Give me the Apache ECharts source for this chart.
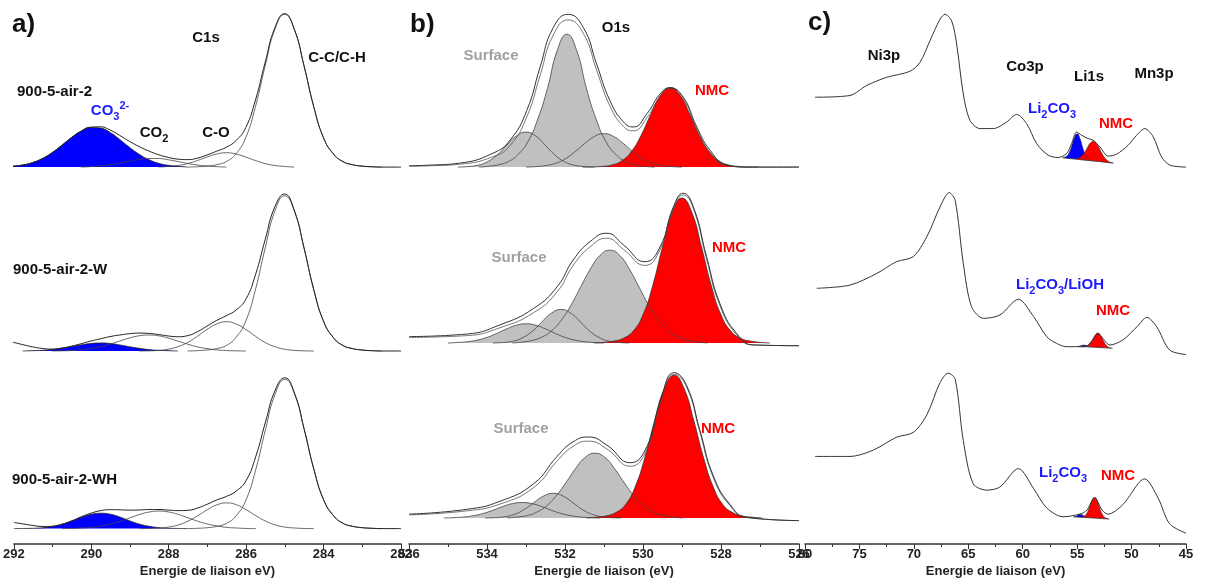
<!DOCTYPE html>
<html><head><meta charset="utf-8">
<script src="https://cdn.jsdelivr.net/npm/echarts/dist/echarts.min.js"></script>
<style>html,body{margin:0;padding:0;background:#fff}#c{width:1207px;height:579px}</style>
</head><body><div id="c"></div>
<script>
// ---------- Panel a : C1s (x = binding energy eV, y = intensity, baseline = 0) ----------
const a1_env = [[292,0.6],[291.75,1.3],[291.5,2.8],[291.25,5.3],[291,8.9],[290.75,13.5],[290.5,18.4],[290.25,22.5],[290,25.1],[289.75,25.3],[289.5,23.3],[289.25,19.9],[289,16.2],[288.75,12.9],[288.5,10.1],[288.25,7.8],[288,6.1],[287.75,5.0],[287.5,4.7],[287.25,5.6],[287,7.6],[286.75,10],[286.5,12.5],[286.25,16.7],[286,24.9],[285.75,42.2],[285.5,65.9],[285.25,87.6],[285,96.4],[284.75,86.6],[284.5,63.7],[284.25,38.1],[284,18.6],[283.75,8.5],[283.5,3.5],[283.25,1.5],[283,0.6],[282.75,0.2],[282.5,0],[282,0]];
const a1_co3 = [[292,0.6],[291.75,1.3],[291.5,2.8],[291.25,5.3],[291,8.9],[290.75,13.5],[290.5,18.4],[290.25,22.5],[290,24.8],[289.75,24.5],[289.5,21.8],[289.25,17.4],[289,12.5],[288.75,8.1],[288.5,4.7],[288.25,2.4],[288,1.1],[287.75,0.5],[287.5,0]];
const a1_co2 = [[290.25,0],[290,0.3],[289.75,0.8],[289.5,1.5],[289.25,2.5],[289,3.7],[288.75,4.8],[288.5,5.4],[288.25,5.4],[288,4.6],[287.75,3.5],[287.5,2.3],[287.25,1.3],[287,0.7],[286.75,0.3],[286.5,0]];
const a1_co = [[288.25,0],[288,0.4],[287.75,1],[287.5,2.2],[287.25,4.1],[287,6.3],[286.75,8.2],[286.5,9],[286.25,8.2],[286,6.3],[285.75,4.1],[285.5,2.2],[285.25,1],[285,0.4],[284.75,0]];
const a1_cc = [[287.5,0],[287.25,0.2],[287,0.6],[286.75,1.5],[286.5,3.5],[286.25,8.5],[286,18.6],[285.75,38.1],[285.5,63.7],[285.25,86.6],[285,96],[284.75,86.6],[284.5,63.7],[284.25,38.1],[284,18.6],[283.75,8.5],[283.5,3.5],[283.25,1.5],[283,0.6],[282.75,0.2],[282.5,0]];

const a2_env = [[292,5.5],[291.75,4],[291.5,2.6],[291.25,1.6],[291,1.2],[290.75,1.8],[290.5,3],[290.25,4.5],[290,6.2],[289.75,7.6],[289.5,9],[289.25,10],[289,10.8],[288.75,11.2],[288.5,11],[288.25,10.3],[288,9.4],[287.75,8.9],[287.5,9.6],[287.25,12],[287,15.6],[286.75,19.1],[286.5,22.1],[286.25,25.6],[286,32.3],[285.75,47.7],[285.5,69.7],[285.25,90.2],[285,98.1],[284.75,87.9],[284.5,64.5],[284.25,38.5],[284,18.8],[283.75,8.6],[283.5,3.5],[283.25,1.5],[283,0.6],[282.75,0.2],[282.5,0],[282,0]];
const a2_co3 = [[291.75,0],[291.5,0.2],[291.25,0.4],[291,0.9],[290.75,1.7],[290.5,2.7],[290.25,3.8],[290,4.7],[289.75,5],[289.5,4.7],[289.25,3.8],[289,2.7],[288.75,1.7],[288.5,0.9],[288.25,0.4],[288,0.2],[287.75,0]];
const a2_co2 = [[291,0],[290.75,0.1],[290.5,0.3],[290.25,0.7],[290,1.5],[289.75,2.6],[289.5,4.3],[289.25,6.2],[289,8.1],[288.75,9.5],[288.5,10],[288.25,9.5],[288,8.1],[287.75,6.2],[287.5,4.3],[287.25,2.6],[287,1.5],[286.75,0.7],[286.5,0.3],[286.25,0.1],[286,0]];
const a2_co = [[288.75,0],[288.5,0.1],[288.25,0.4],[288,1.1],[287.75,2.7],[287.5,5.3],[287.25,9.2],[287,13.5],[286.75,16.9],[286.5,18.3],[286.25,16.9],[286,13.5],[285.75,9.2],[285.5,5.3],[285.25,2.7],[285,1.1],[284.75,0.4],[284.5,0.1],[284.25,0]];
const a2_cc = [[287.5,0],[287.25,0.2],[287,0.6],[286.75,1.5],[286.5,3.5],[286.25,8.6],[286,18.8],[285.75,38.5],[285.5,64.4],[285.25,87.5],[285,97],[284.75,87.5],[284.5,64.4],[284.25,38.5],[284,18.8],[283.75,8.6],[283.5,3.5],[283.25,1.5],[283,0.6],[282.75,0.2],[282.5,0]];

const a3_env = [[292,4],[291.75,3],[291.5,2],[291.25,1.4],[291,1.5],[290.75,2.9],[290.5,5.1],[290.25,7.8],[290,10.1],[289.75,11.7],[289.5,12.3],[289.25,12.2],[289,12],[288.75,12.1],[288.5,12.4],[288.25,12.4],[288,12],[287.75,11.7],[287.5,11.9],[287.25,13.4],[287,15.9],[286.75,18.7],[286.5,21],[286.25,24.5],[286,31.2],[285.75,46.9],[285.5,69.3],[285.25,89.9],[285,98],[284.75,87.9],[284.5,64.5],[284.25,38.5],[284,18.8],[283.75,8.6],[283.5,3.5],[283.25,1.5],[283,0.6],[282.75,0.2],[282.5,0],[282,0]];
const a3_co3 = [[292,0],[291.75,0.1],[291.5,0.2],[291.25,0.6],[291,1.5],[290.75,2.9],[290.5,5],[290.25,7.4],[290,9.3],[289.75,10],[289.5,9.3],[289.25,7.4],[289,5],[288.75,2.9],[288.5,1.5],[288.25,0.6],[288,0.2],[287.75,0.1],[287.5,0]];
const a3_co2 = [[290.75,0],[290.5,0.1],[290.25,0.4],[290,0.8],[289.75,1.7],[289.5,3],[289.25,4.8],[289,7],[288.75,9.2],[288.5,10.8],[288.25,11.4],[288,10.8],[287.75,9.2],[287.5,7],[287.25,4.8],[287,3],[286.75,1.7],[286.5,0.8],[286.25,0.4],[286,0.1],[285.75,0]];
const a3_co = [[288.75,0],[288.5,0.1],[288.25,0.4],[288,1],[287.75,2.4],[287.5,4.9],[287.25,8.4],[287,12.3],[286.75,15.5],[286.5,16.7],[286.25,15.5],[286,12.3],[285.75,8.4],[285.5,4.9],[285.25,2.4],[285,1],[284.75,0.4],[284.5,0.1],[284.25,0]];
const a3_cc = [[287.5,0],[287.25,0.2],[287,0.6],[286.75,1.5],[286.5,3.5],[286.25,8.6],[286,18.8],[285.75,38.5],[285.5,64.4],[285.25,87.5],[285,97],[284.75,87.5],[284.5,64.4],[284.25,38.5],[284,18.8],[283.75,8.6],[283.5,3.5],[283.25,1.5],[283,0.6],[282.75,0.2],[282.5,0]];

// ---------- Panel b : O1s (env = raw data, fit = fit envelope) ----------
const b1_env = [[536,0.8],[535.5,1.2],[534.7,2.5],[533.85,8.7],[533.41,16.9],[532.98,35.6],[532.64,62.7],[532.3,87.7],[531.92,96],[531.53,87.7],[531.19,64.8],[530.85,41.9],[530.5,28.3],[530.25,25.2],[529.9,33.5],[529.56,46],[529.31,49.8],[528.97,44],[528.62,25.2],[528.28,10.6],[527.85,1.3],[527.26,0],[526,0]];
const b1_fit = [[536,0.5],[535.5,0.8],[534.7,1.8],[533.85,6.5],[533.41,13.5],[532.98,31.5],[532.64,57.5],[532.3,83],[531.92,92.5],[531.53,84],[531.19,61],[530.85,38.5],[530.5,25.5],[530.25,22.8],[529.9,31],[529.56,44.5],[529.31,49.5],[528.97,43],[528.62,23.5],[528.28,9.2],[527.85,1],[527.26,0],[526,0]];
const b1_left = [[534.75,0],[534.5,0.3],[534.25,1.1],[534,3.2],[533.75,7.4],[533.5,13.6],[533.25,19.5],[533,22],[532.75,19.5],[532.5,13.6],[532.25,7.4],[532,3.2],[531.75,1.1],[531.5,0.3],[531.25,0]];
const b1_main = [[534.2,0],[533.95,0.5],[533.7,1.5],[533.45,3.5],[533.2,8],[532.95,16],[532.7,30],[532.45,49.4],[532.2,73.2],[531.95,83.5],[531.7,73.2],[531.45,49.4],[531.2,30],[530.95,16],[530.7,8],[530.45,3.5],[530.2,1.5],[529.95,0.5],[529.7,0]];
const b1_right = [[533,0],[532.75,0.3],[532.5,0.9],[532.25,2.3],[532,5.1],[531.75,9.5],[531.5,14.7],[531.25,19.2],[531,21],[530.75,19.2],[530.5,14.7],[530.25,9.5],[530,5.1],[529.75,2.3],[529.5,0.9],[529.25,0.3],[529,0]];
const b1_nmc = [[531.55,0],[531.3,0.1],[531.05,0.4],[530.8,1.3],[530.55,3.9],[530.3,9.7],[530.05,19.9],[529.8,33.2],[529.55,45.1],[529.3,50],[529.05,45.1],[528.8,33.2],[528.55,19.9],[528.3,9.7],[528.05,3.9],[527.8,1.3],[527.55,0.4],[527.3,0.1],[527.05,0]];

const b2_env = [[536,4],[534.52,5.6],[533.67,11.3],[532.8,21.7],[532.2,35.2],[531.79,51.9],[531.36,63.3],[530.93,68.6],[530.5,61.3],[529.95,50.8],[529.56,60.2],[529.22,85.2],[528.97,93.6],[528.71,85.2],[528.37,54],[528.03,24.8],[527.6,6],[527.17,-1.2],[526,-1.7]];
const b2_fit = [[536,3.5],[534.52,4.6],[533.67,9.5],[532.8,19],[532.2,32],[531.79,48.5],[531.36,60],[530.93,65.5],[530.5,58.5],[529.95,48.5],[529.56,58.5],[529.22,84],[528.97,92.5],[528.71,84],[528.37,52.5],[528.03,23.5],[527.6,5.2],[527.17,-1.2],[526,-1.7]];
const b2_third = [[535,0],[534.75,0.3],[534.5,0.8],[534.25,1.8],[534,3.5],[533.75,6],[533.5,8.8],[533.25,11.1],[533,12],[532.75,11.1],[532.5,8.8],[532.25,6],[532,3.5],[531.75,1.8],[531.5,0.8],[531.25,0.3],[531,0]];
const b2_main = [[533.35,0],[533.1,0.6],[532.85,1.6],[532.6,3.6],[532.35,7.5],[532.1,14.1],[531.85,23.5],[531.6,34.9],[531.35,46.2],[531.1,54.8],[530.85,58],[530.6,54.8],[530.35,46.2],[530.1,34.9],[529.85,23.5],[529.6,14.1],[529.35,7.5],[529.1,3.6],[528.85,1.6],[528.6,0.6],[528.35,0]];
const b2_sec = [[533.85,0],[533.6,0.3],[533.35,1],[533.1,3.1],[532.85,7.1],[532.6,13],[532.35,18.6],[532.1,21],[531.85,18.6],[531.6,13],[531.35,7.1],[531.1,3.1],[530.85,1],[530.6,0.3],[530.35,0]];
const b2_nmc = [[531.25,0],[531,0.4],[530.75,1.2],[530.5,3],[530.25,7.5],[530,17.6],[529.75,36],[529.5,60],[529.25,81.7],[529,90.6],[528.75,81.7],[528.5,60],[528.25,36],[528,17.6],[527.75,7.5],[527.5,3],[527.25,1.2],[527,0.4],[526.75,0]];

const b3_env = [[536,2.5],[534.52,5.6],[533.67,10.8],[532.8,22.3],[532.2,40],[531.79,49.4],[531.4,52.5],[530.93,47.3],[530.33,35.8],[529.9,46.3],[529.56,75.4],[529.2,94.2],[528.88,85.8],[528.54,56.7],[528.2,27.5],[527.77,8.75],[527.34,0.4],[526,-1.7]];
const b3_fit = [[536,2],[534.52,4.6],[533.67,9],[532.8,19.8],[532.2,37],[531.79,46.5],[531.4,49.8],[530.93,44.8],[530.33,33.5],[529.9,44.5],[529.56,74.3],[529.2,93.2],[528.88,84.8],[528.54,55.5],[528.2,26.3],[527.77,8],[527.34,0.3],[526,-1.7]];
const b3_third = [[535.1,0],[534.85,0.2],[534.6,0.6],[534.35,1.5],[534.1,2.9],[533.85,5],[533.6,7.4],[533.35,9.3],[533.1,10],[532.85,9.3],[532.6,7.4],[532.35,5],[532.1,2.9],[531.85,1.5],[531.6,0.6],[531.35,0.2],[531.1,0]];
const b3_main = [[533.48,0],[533.23,0.6],[532.98,1.5],[532.73,3.7],[532.48,7.7],[532.23,14.2],[531.98,22.8],[531.73,32],[531.48,39.3],[531.23,42],[530.98,39.3],[530.73,32],[530.48,22.8],[530.23,14.2],[529.98,7.7],[529.73,3.7],[529.48,1.5],[529.23,0.6],[528.98,0]];
const b3_sec = [[534.05,0],[533.8,0.2],[533.55,0.8],[533.3,2.3],[533.05,5.4],[532.8,9.9],[532.55,14.2],[532.3,16],[532.05,14.2],[531.8,9.9],[531.55,5.4],[531.3,2.3],[531.05,0.8],[530.8,0.2],[530.55,0]];
const b3_nmc = [[531.45,0],[531.2,0.5],[530.95,1.3],[530.7,3.5],[530.45,8.6],[530.2,20.2],[529.95,39.3],[529.7,63.3],[529.45,84.1],[529.2,92.5],[528.95,84.1],[528.7,63.3],[528.45,39.3],[528.2,20.2],[527.95,8.6],[527.7,3.5],[527.45,1.3],[527.2,0.5],[526.95,0]];

// ---------- Panel c : Ni3p / Co3p / Li1s / Mn3p (component tops are absolute, bg = fit background) ----------
const c1_spec = [[79.08,43.9],[75.87,45],[74.33,51.3],[72.5,56.4],[70.36,60.2],[69.44,65.8],[68.52,79.4],[67.6,92.9],[67.14,96],[66.53,91.9],[66.07,77.3],[65.46,46],[64.85,29.4],[63.93,24.2],[62.7,24.2],[61.48,28.3],[60.56,33.1],[59.64,27.3],[58.72,14.8],[57.66,7.5],[56.74,6],[55.97,8.5],[55.51,14.8],[55.05,22],[54.59,20],[53.98,17.9],[53.53,16.9],[52.91,12.7],[52.15,6.9],[51.38,8.1],[50.31,13.75],[49.54,20],[48.78,24.2],[48,18.9],[47.25,6.4],[46.48,1.25],[45,0]];
const c1_blue = [[56.25,6.0],[56,6.6],[55.75,8.8],[55.5,13.25],[55.25,18.6],[55,20.9],[54.75,18.2],[54.5,12.5],[54.25,7.75],[54,5.2],[53.75,4.2]];
const c1_red = [[55.25,5.3],[55,5.4],[54.75,6.1],[54.5,7.5],[54.25,9.95],[54,13],[53.75,15.4],[53.5,16.3],[53.25,15],[53,12.3],[52.75,8.9],[52.5,6.1],[52.25,4.3],[52,3.2],[51.75,2.8]];
const c1_bg = [[56.35,5.9],[56,5.6],[55.5,5.25],[55,4.9],[54.5,4.5],[54,4.2],[53.5,3.8],[53,3.5],[52.5,3.1],[52,2.7],[51.65,2.5]];

const c2_spec = [[78.93,39.2],[75.87,41.2],[73.4,48.5],[71.6,55.8],[70.05,59],[68.8,71.5],[67.6,90],[66.75,99],[66.2,94],[65.46,54.8],[64.7,27.7],[63.6,20.4],[62.1,22.5],[60.4,32.3],[59,21.5],[57.8,9],[56.9,4.8],[56,2.7],[54.45,2.7],[54.1,3.1],[53.5,7.5],[53.07,11],[52.6,7.5],[52,3.75],[50.8,6.9],[49.5,15.2],[48.6,21],[47.7,15.2],[46.5,0.6],[45,-2.2]];
const c2_blue = [[54.85,2.9],[54.6,3.4],[54.35,3.7],[54.1,3.2],[53.85,2.5]];
const c2_red = [[54.35,2.8],[54.1,3.2],[53.85,4.4],[53.6,6.9],[53.35,9.9],[53.1,11.2],[52.85,9.7],[52.6,6.5],[52.35,3.8],[52.1,2.4],[51.85,1.8]];
const c2_bg = [[54.95,2.9],[54.5,2.75],[54,2.6],[53.5,2.4],[53,2.2],[52.5,2],[52,1.8],[51.75,1.7]];

const c3_spec = [[79.08,46.9],[75.87,46.9],[73.73,51],[71.58,59.4],[70.05,62.5],[68.8,74],[67.6,94.8],[66.84,101],[66.2,97],[65.46,57.3],[64.55,29.2],[63.3,25],[62.1,27],[60.4,39],[59,26],[57.8,13.5],[56.3,7.7],[54.75,9.4],[54.1,12],[53.4,20.2],[52.7,12],[52.15,9.4],[50.8,15.6],[48.8,32.3],[47.56,19.8],[46.5,3.1],[45,-3]];
const c3_blue = [[55.25,7.6],[55,8.3],[54.75,9.4],[54.5,8.9],[54.25,7.7],[54,7.1]];
const c3_red = [[54.65,7.5],[54.4,7.9],[54.15,9.5],[53.9,13.2],[53.65,18],[53.4,20.2],[53.15,17.8],[52.9,12.8],[52.65,8.9],[52.4,7],[52.15,6.4]];
const c3_bg = [[55.35,7.65],[55,7.5],[54.5,7.3],[54,7.1],[53.5,6.85],[53,6.65],[52.5,6.4],[52.05,6.25]];

// axis settings (values)
const axisMin = [282, 526, 45];
const axisMax = [292, 536, 80];
const axisStep = [2, 2, 5];
const axisNames = ['Energie de liaison eV)', 'Energie de liaison (eV)', 'Energie de liaison (eV)'];

// ---------- layout ----------
const FF = '"Liberation Sans", Arial, Helvetica, sans-serif';
const PANEL_LEFT = [13, 409, 805];
const PANEL_W = [388, 390, 381];
const BASE = [[167, 351, 535], [167, 343, 524], [167, 351, 535]];
const PX = 1.6, YMAX = 105, AXIS_Y = 551;

const grids = [], xAxes = [], yAxes = [];
for (let p = 0; p < 3; p++) {
  for (let r = 0; r < 3; r++) {
    const g = p * 3 + r;
    const base = BASE[p][r];
    const top = base - YMAX * PX;
    const bottomPx = r < 2 ? base + 16 : AXIS_Y;
    grids.push({ left: PANEL_LEFT[p], width: PANEL_W[p], top: top, height: bottomPx - top });
    yAxes.push({ type: 'value', gridIndex: g, min: -(bottomPx - base) / PX, max: YMAX, show: false });
    const last = r === 2;
    xAxes.push({
      type: 'value', gridIndex: g, min: axisMin[p], max: axisMax[p], interval: axisStep[p], inverse: true,
      show: last, z: 10,
      name: last ? axisNames[p] : '', nameLocation: 'middle', nameGap: 21,
      nameTextStyle: { fontFamily: FF, fontWeight: 'bold', fontSize: 13, color: '#222' },
      axisLine: { show: true, onZero: false, lineStyle: { color: '#333', width: 1.5 } },
      axisTick: { show: true, length: 5, lineStyle: { color: '#333', width: 1 } },
      minorTick: { show: true, splitNumber: 2, length: 3, lineStyle: { color: '#333', width: 1 } },
      splitLine: { show: false }, minorSplitLine: { show: false },
      axisLabel: { margin: 4, fontFamily: FF, fontWeight: 'bold', fontSize: 13, color: '#222' }
    });
  }
}

function L(g, data, o) {
  return Object.assign({ type: 'line', xAxisIndex: g, yAxisIndex: g, data: data, symbol: 'none', showSymbol: false,
    smooth: 0.5, animation: false, silent: true, lineStyle: { color: '#333', width: 1 } }, o || {});
}
const thin = { lineStyle: { color: '#444', width: 0.8 } };
const series = [];
// panel a
[[a1_co3, a1_co2, a1_co, a1_cc, a1_env], [a2_co3, a2_co2, a2_co, a2_cc, a2_env], [a3_co3, a3_co2, a3_co, a3_cc, a3_env]].forEach((d, r) => {
  const g = r;
  series.push(L(g, d[0], { areaStyle: { color: '#0000ff', opacity: 1 }, lineStyle: { color: '#222', width: 0.8 } }));
  series.push(L(g, d[1], thin));
  series.push(L(g, d[2], thin));
  series.push(L(g, d[3], thin));
  series.push(L(g, d[4], { lineStyle: { color: '#222', width: 1 } }));
});
// panel b
const GRAY = { areaStyle: { color: '#c0c0c0', opacity: 1 }, lineStyle: { color: '#444', width: 0.8 } };
const RED = { areaStyle: { color: '#ff0000', opacity: 1 }, lineStyle: { color: '#333', width: 0.8 } };
[[b1_left, b1_main, b1_right, b1_nmc, b1_fit, b1_env], [b2_third, b2_main, b2_sec, b2_nmc, b2_fit, b2_env], [b3_third, b3_main, b3_sec, b3_nmc, b3_fit, b3_env]].forEach((d, r) => {
  const g = 3 + r;
  series.push(L(g, d[0], GRAY));
  series.push(L(g, d[1], GRAY));
  series.push(L(g, d[2], GRAY));
  series.push(L(g, d[3], RED));
  series.push(L(g, d[4], { lineStyle: { color: '#555', width: 0.8 } }));
  series.push(L(g, d[5], { lineStyle: { color: '#333', width: 1 } }));
});
// panel c : component fills are cut at the fit background by a white area drawn over them
[[c1_blue, c1_red, c1_bg, c1_spec], [c2_blue, c2_red, c2_bg, c2_spec], [c3_blue, c3_red, c3_bg, c3_spec]].forEach((d, r) => {
  const g = 6 + r;
  series.push(L(g, d[0], { areaStyle: { color: '#0000ff', opacity: 1 }, lineStyle: { color: '#333', width: 0.6 } }));
  series.push(L(g, d[1], { areaStyle: { color: '#ff0000', opacity: 1 }, lineStyle: { color: '#333', width: 0.6 } }));
  series.push(L(g, d[2], { smooth: false, areaStyle: { color: '#ffffff', opacity: 1, origin: 'start' }, lineStyle: { color: '#333', width: 0.8 } }));
  series.push(L(g, d[3], { smooth: 0.3, lineStyle: { color: '#333', width: 1 } }));
});

// ---------- text annotations ----------
const BLUE = '#1a1aff', REDT = '#ff0000', GRAYT = '#a0a0a0', BLACK = '#111';
function T(x, y, text, color, size, align, rich) {
  const st = { text: text, fill: color, font: 'bold ' + size + 'px ' + FF,
    align: align || 'center', textAlign: align || 'center', verticalAlign: 'middle', textVerticalAlign: 'middle' };
  if (rich) st.rich = rich;
  return { type: 'text', x: x, y: y, silent: true, style: st };
}
function R(color) {
  return {
    b: { fontSize: 15, fontWeight: 'bold', fontFamily: FF, fill: color, color: color, lineHeight: 22 },
    s: { fontSize: 11, fontWeight: 'bold', fontFamily: FF, fill: color, color: color, verticalAlign: 'bottom' },
    u: { fontSize: 11, fontWeight: 'bold', fontFamily: FF, fill: color, color: color, verticalAlign: 'top' }
  };
}
const texts = [
  T(12, 25, 'a)', BLACK, 26, 'left'),
  T(410, 25, 'b)', BLACK, 26, 'left'),
  T(808, 23, 'c)', BLACK, 26, 'left'),
  T(206, 38, 'C1s', BLACK, 15),
  T(337, 58, 'C-C/C-H', BLACK, 15),
  T(17, 92, '900-5-air-2', BLACK, 15, 'left'),
  T(13, 270, '900-5-air-2-W', BLACK, 15, 'left'),
  T(12, 480, '900-5-air-2-WH', BLACK, 15, 'left'),
  T(110, 111, '{b|CO}{s|3}{u|2-}', BLUE, 15, 'center', R(BLUE)),
  T(154, 133, '{b|CO}{s|2}', BLACK, 15, 'center', R(BLACK)),
  T(216, 133, 'C-O', BLACK, 15),
  T(616, 28, 'O1s', BLACK, 15),
  T(491, 56, 'Surface', GRAYT, 15),
  T(519, 258, 'Surface', GRAYT, 15),
  T(521, 429, 'Surface', GRAYT, 15),
  T(712, 91, 'NMC', REDT, 15),
  T(729, 248, 'NMC', REDT, 15),
  T(718, 429, 'NMC', REDT, 15),
  T(884, 56, 'Ni3p', BLACK, 15),
  T(1025, 67, 'Co3p', BLACK, 15),
  T(1089, 77, 'Li1s', BLACK, 15),
  T(1154, 74, 'Mn3p', BLACK, 15),
  T(1052, 109, '{b|Li}{s|2}{b|CO}{s|3}', BLUE, 15, 'center', R(BLUE)),
  T(1116, 124, 'NMC', REDT, 15),
  T(1060, 285, '{b|Li}{s|2}{b|CO}{s|3}{b|/LiOH}', BLUE, 15, 'center', R(BLUE)),
  T(1113, 311, 'NMC', REDT, 15),
  T(1063, 473, '{b|Li}{s|2}{b|CO}{s|3}', BLUE, 15, 'center', R(BLUE)),
  T(1118, 476, 'NMC', REDT, 15)
];

const chart = echarts.init(document.getElementById('c'), null, { renderer: 'canvas' });
chart.setOption({
  animation: false,
  backgroundColor: '#ffffff',
  textStyle: { fontFamily: FF },
  grid: grids, xAxis: xAxes, yAxis: yAxes,
  series: series,
  graphic: texts
});
</script></body></html>
